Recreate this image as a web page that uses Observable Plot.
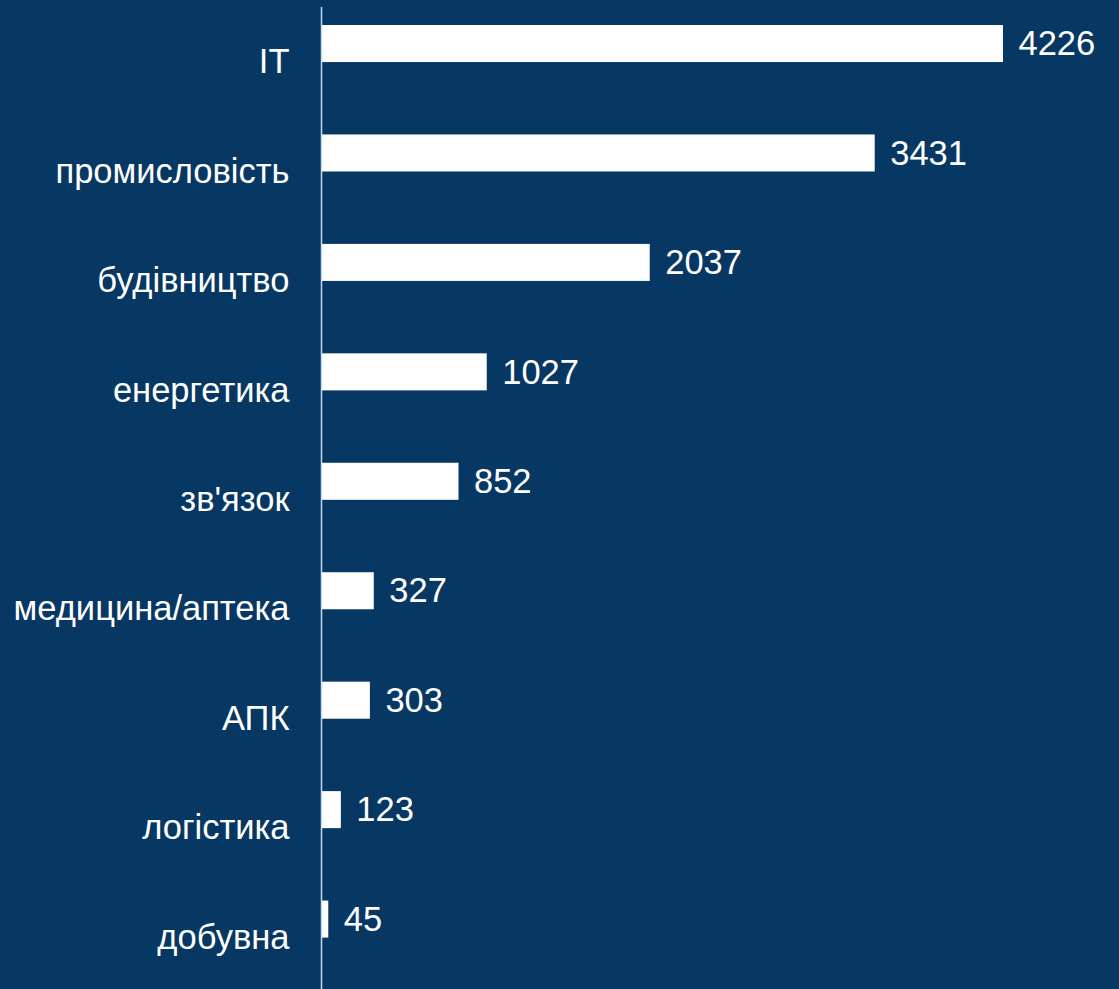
<!DOCTYPE html>
<html>
<head>
<meta charset="utf-8">
<script src="https://cdn.jsdelivr.net/npm/d3@7"></script>
<script src="https://cdn.jsdelivr.net/npm/@observablehq/plot@0.6"></script>
<style>
  html, body { margin: 0; padding: 0; background: #073763; }
  #chart svg { display: block; }
</style>
</head>
<body>
<div id="chart"></div>
<script>
const categories = ["IT", "промисловість", "будівництво", "енергетика", "зв'язок", "медицина/аптека", "АПК", "логістика", "добувна"];
const values = [4226, 3431, 2037, 1027, 852, 327, 303, 123, 45];

const data = categories.map((c, i) => ({category: c, value: values[i]}));

const chart = Plot.plot({
  width: 1119,
  height: 989,
  marginLeft: 321,
  marginRight: 116,
  marginTop: 7,
  marginBottom: -3,
  style: {background: "#073763", color: "#ffffff", fontFamily: "'Liberation Sans', Arial, sans-serif", fontSize: "34.5px"},
  x: {domain: [0, d3.max(values)], axis: null},
  y: {domain: categories, padding: 0, round: false, label: null, tickSize: 0, tickPadding: 32},
  marks: [
    Plot.barX(data, {x: "value", y: "category", fill: "#ffffff", insetTop: 18, insetBottom: 54.4}),
    Plot.text(data, {x: "value", y: "category", text: d => String(d.value), textAnchor: "start", dx: 15, dy: -18, fill: "#ffffff", fontSize: 34.5}),
    Plot.ruleX([0], {stroke: "#c0daf2", strokeWidth: 1.5})
  ]
});
document.getElementById("chart").appendChild(chart);
</script>
</body>
</html>
